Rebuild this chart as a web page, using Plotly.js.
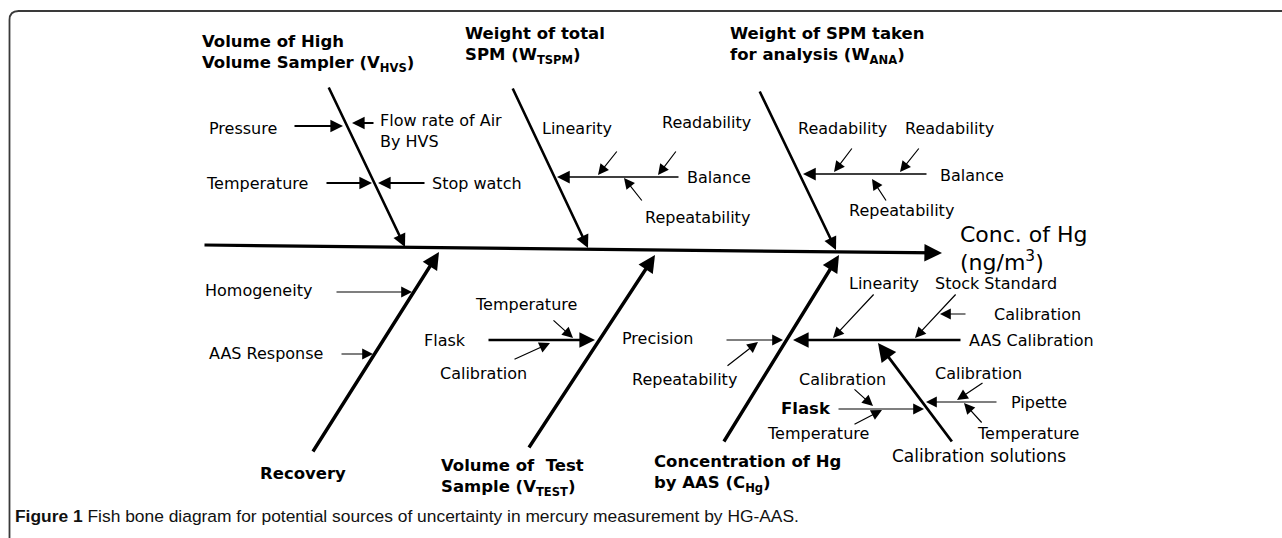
<!DOCTYPE html>
<html><head><meta charset="utf-8">
<script src="https://cdn.plot.ly/plotly-3.0.1.min.js"></script>
<style>html,body{margin:0;padding:0;background:#fff;}#chart{width:1282px;height:538px;}</style>
</head><body><div id="chart"></div>
<script>
// ---- Data (diagram coordinates in pixel units of the figure) ----
const spineX = [203, 942];
const spineY = [245, 253];
const effectLabel = "Conc. of Hg";
const effectUnit = "(ng/m<sup>3</sup>)";

// Main bones (tail -> head at spine)
const boneTitles = [
  "Volume of High<br>Volume Sampler (V<sub>HVS</sub>)",
  "Weight of total<br>SPM (W<sub>TSPM</sub>)",
  "Weight of SPM taken<br>for analysis (W<sub>ANA</sub>)",
  "Recovery",
  "Volume of  Test<br>Sample (V<sub>TEST</sub>)",
  "Concentration of Hg<br>by AAS (C<sub>Hg</sub>)"
];
const boneTitleX = [200, 463, 728, 258, 439, 652];
const boneTitleY = [53, 45, 45, 473, 477, 473];
const boneTailX = [328, 512, 759, 312, 528, 723];
const boneTailY = [86, 87, 90, 453, 449, 443];
const boneHeadX = [405, 588, 836, 439, 655, 839];
const boneHeadY = [247, 248, 250, 252, 255, 255];

// Secondary branches (thicker lines)
const branchNames = ["Balance (W_TSPM)", "Balance (W_ANA)", "Flask (V_TEST)", "AAS Calibration", "Calibration solutions"];
const branchTailX = [680, 928, 487, 962, 953];
const branchTailY = [177, 174, 340, 340, 443];
const branchHeadX = [557, 803, 595, 793, 878];
const branchHeadY = [177, 174, 340, 340, 343];

// Minor cause arrows
const causeTailX = [293, 375, 325, 426, 618, 677, 643, 853, 920, 887, 335, 340, 552, 513, 725, 726, 875, 957, 967, 837, 853, 853, 998, 984, 983];
const causeTailY = [126, 123, 183, 183, 150, 150, 202, 147, 147, 202, 292, 354, 319, 360, 340, 367, 293, 293, 314, 409, 388, 425, 402, 382, 424];
const causeHeadX = [343, 352, 372, 378, 598, 658, 624, 834, 900, 872, 412, 373, 573, 550, 783, 758, 833, 915, 940, 924, 873, 882, 926, 957, 964];
const causeHeadY = [126, 123, 183, 183, 175, 175, 178, 172, 172, 179, 292, 354, 338, 343, 340, 342, 338, 338, 314, 409, 406, 410, 402, 400, 403];

// Cause labels
const causeLabels = ["Pressure", "Flow rate of Air<br>By HVS", "Temperature", "Stop watch",
  "Linearity", "Readability", "Balance", "Repeatability",
  "Readability", "Readability", "Balance", "Repeatability",
  "Homogeneity", "AAS Response",
  "Temperature", "Flask", "Calibration",
  "Precision", "Repeatability",
  "Linearity", "Stock Standard", "Calibration", "AAS Calibration",
  "Calibration", "Flask", "Temperature", "Calibration", "Pipette", "Temperature", "Calibration solutions"];
const causeLabelX = [207, 378, 204, 430, 540, 660, 685, 643, 796, 903, 938, 847, 203, 207, 473, 422, 438, 620, 630, 847, 933, 992, 967, 797, 779, 765, 933, 1009, 975, 890];
const causeLabelY = [128, 131, 183, 183, 128, 122, 177, 217, 128, 128, 175, 210, 290, 353, 304, 340, 373, 338, 379, 283, 283, 314, 340, 379, 408, 433, 373, 402, 433, 456];
const causeLabelBold = [0,0,0,0,0,0,0,0,0,0,0,0,0,0,0,0,0,0,0,0,0,0,0,0,1,0,0,0,0,0];

const captionBold = "Figure 1";
const captionText = " Fish bone diagram for potential sources of uncertainty in mercury measurement by HG-AAS.";

// ---- Drawing ----
const ink = "#000";
const ann = [];
function arrow(tx, ty, hx, hy, w, size) {
  ann.push({x: hx, y: hy, ax: tx, ay: ty, xref: "x", yref: "y", axref: "x", ayref: "y",
    text: "", showarrow: true, arrowhead: 2, arrowsize: size, arrowwidth: w,
    arrowcolor: ink, standoff: 0, startstandoff: 0});
}
arrow(spineX[0], spineY[0], spineX[1], spineY[1], 3.2, 1.1);
for (let i = 0; i < boneTailX.length; i++) {
  arrow(boneTailX[i], boneTailY[i], boneHeadX[i], boneHeadY[i], i < 3 ? 2.6 : 3.4, 1.0);
  ann.push({x: boneTitleX[i], y: boneTitleY[i], xref: "x", yref: "y", text: "<b>" + boneTitles[i] + "</b>",
    showarrow: false, xanchor: "left", yanchor: "middle", align: "left",
    font: {family: "DejaVu Sans", size: 16.5, color: ink}});
}
for (let i = 0; i < branchTailX.length; i++) {
  const w = (i === 2 || i === 3) ? 2.4 : (i === 4 ? 2.8 : 1.7);
  arrow(branchTailX[i], branchTailY[i], branchHeadX[i], branchHeadY[i], w, (i === 0 || i === 1) ? 1.5 : 1.3);
}
for (let i = 0; i < causeTailX.length; i++) {
  const thick = i < 4;
  arrow(causeTailX[i], causeTailY[i], causeHeadX[i], causeHeadY[i], thick ? 1.8 : 1.2, thick ? 1.4 : 1.8);
}
for (let i = 0; i < causeLabels.length; i++) {
  const b = causeLabelBold[i];
  const sz = b ? 16.5 : (causeLabels[i] === "Calibration solutions" ? 17 : 16);
  ann.push({x: causeLabelX[i], y: causeLabelY[i], xref: "x", yref: "y",
    text: b ? "<b>" + causeLabels[i] + "</b>" : causeLabels[i],
    showarrow: false, xanchor: "left", yanchor: "middle", align: "left",
    font: {family: "DejaVu Sans", size: sz, color: ink}});
}
ann.push({x: 958, y: 234, xref: "x", yref: "y", text: effectLabel, showarrow: false,
  xanchor: "left", yanchor: "middle", font: {family: "DejaVu Sans", size: 22, color: ink}});
ann.push({x: 958, y: 261, xref: "x", yref: "y", text: effectUnit, showarrow: false,
  xanchor: "left", yanchor: "middle", font: {family: "DejaVu Sans", size: 22, color: ink}});
ann.push({x: 13, y: 516, xref: "x", yref: "y", text: "<b>" + captionBold + "</b>" + captionText,
  showarrow: false, xanchor: "left", yanchor: "middle",
  font: {family: "Liberation Sans", size: 17.4, color: "#111"}});

const layout = {
  width: 1282, height: 538,
  margin: {l: 0, r: 0, t: 0, b: 0},
  paper_bgcolor: "#fff", plot_bgcolor: "#fff",
  xaxis: {range: [0, 1282], visible: false, fixedrange: true},
  yaxis: {range: [538, 0], visible: false, fixedrange: true},
  showlegend: false,
  annotations: ann,
  shapes: [{type: "path", xref: "x", yref: "y", path: "M 9.5,538 L 9.5,20 Q 9.5,11 18.5,11 L 1282,11",
    line: {color: "#3a3a3a", width: 1.8}}]
};
Plotly.newPlot("chart", [{x: [], y: [], type: "scatter", mode: "lines", hoverinfo: "skip"}], layout, {staticPlot: true, displayModeBar: false});
</script>
</body></html>
